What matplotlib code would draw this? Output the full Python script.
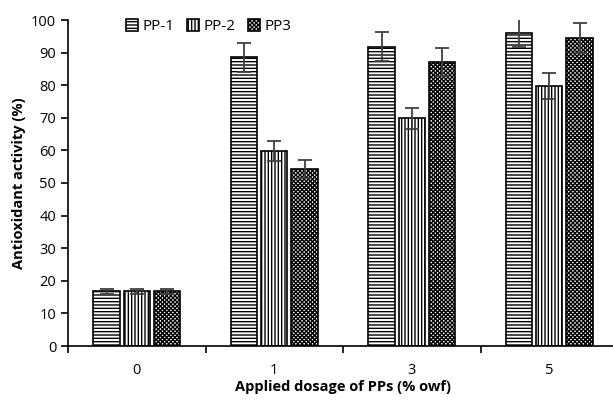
import numpy as np
import matplotlib
matplotlib.use("Agg")
import matplotlib.pyplot as plt

plt.rcParams['font.family'] = ['Open Sans', 'DejaVu Sans']
plt.rcParams['hatch.linewidth'] = 1.0

dosage = ["0", "1", "3", "5"]
series = ["PP-1", "PP-2", "PP3"]
pp1 = [16.8, 88.5, 91.8, 96.0]
pp2 = [16.8, 59.8, 69.8, 79.8]
pp3 = [16.8, 54.2, 87.1, 94.5]
err1 = [0.8, 4.5, 4.4, 4.2]
err2 = [0.8, 3.0, 3.3, 3.9]
err3 = [0.8, 2.8, 4.2, 4.6]

values = [pp1, pp2, pp3]
errors = [err1, err2, err3]
hatches = ["-----", "|||||", "xxxxxxxx"]

fig = plt.figure(figsize=(6.13, 4.03), dpi=100)
ax = fig.add_axes([68 / 613, 57 / 403, 550 / 613, 326 / 403])

x = np.arange(len(dosage))
w = 0.19
step = 0.22
for i in range(3):
    ax.bar(x + (i - 1) * step, values[i], w, facecolor="white", edgecolor="black",
           hatch=hatches[i], linewidth=1.2, label=series[i],
           yerr=errors[i], error_kw=dict(ecolor="#404040", elinewidth=1.3, capsize=5, capthick=1.3))

ax.set_xlim(-0.5, 3.5)
ax.set_ylim(0, 100)
ax.set_yticks(range(0, 101, 10))
ax.set_xticks(x)
ax.set_xticklabels(dosage)
ax.set_xticks(np.arange(-0.5, 3.6, 1), minor=True)
ax.tick_params(axis="x", which="major", length=0, pad=12, labelsize=10.5)
ax.tick_params(axis="x", which="minor", length=5, direction="out", width=1.2)
ax.tick_params(axis="y", length=5, direction="out", width=1.2, labelsize=10.5)
for s in ["top", "right"]:
    ax.spines[s].set_visible(False)
ax.spines["left"].set_linewidth(1.2)
ax.spines["bottom"].set_linewidth(1.2)

ax.set_xlabel("Applied dosage of PPs (% owf)", fontweight="bold", fontsize=10.5, labelpad=2)
ax.set_ylabel("Antioxidant activity (%)", fontweight="bold", fontsize=10.5, labelpad=4)

ax.legend(loc="upper left", bbox_to_anchor=(0.08, 1.045), ncol=3, frameon=False,
          fontsize=11, handlelength=0.8, handleheight=0.8, handletextpad=0.3,
          columnspacing=0.8)

fig.savefig("out.png", dpi=100)
